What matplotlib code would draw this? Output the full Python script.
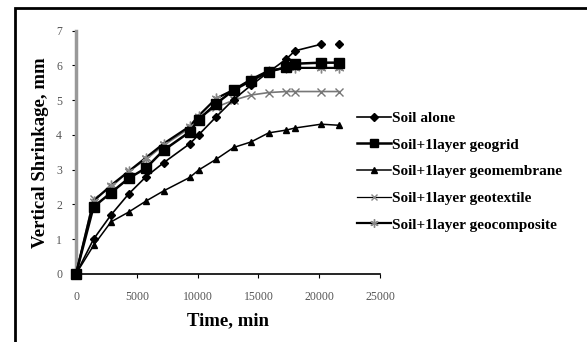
import numpy as np
import matplotlib
matplotlib.use("Agg")
import matplotlib.pyplot as plt
from matplotlib.patches import Rectangle
from matplotlib.lines import Line2D

# time, min
time = [0, 1440, 2880, 4320, 5760, 7200, 9360, 10080, 11520, 12960,
        14400, 15840, 17280, 18000, 20160, 21600]

# vertical shrinkage, mm
soil_alone = [0, 1.0, 1.7, 2.3, 2.8, 3.2, 3.75, 4.0, 4.52, 5.02,
              5.43, 5.81, 6.18, 6.42, 6.61, 6.61]
geogrid = [0, 1.93, 2.34, 2.75, 3.05, 3.56, 4.09, 4.44, 4.9, 5.29,
           5.56, 5.82, 5.95, 6.05, 6.08, 6.08]
geomembrane = [0, 0.82, 1.5, 1.78, 2.1, 2.39, 2.78, 2.99, 3.3, 3.64,
               3.8, 4.06, 4.14, 4.2, 4.31, 4.28]
geotextile = [0, 2.15, 2.5, 2.95, 3.3, 3.7, 4.2, 4.5, 4.8, 5.0,
              5.15, 5.22, 5.25, 5.25, 5.25, 5.25]
geocomposite = [0, 2.1, 2.55, 2.95, 3.35, 3.75, 4.25, 4.55, 5.05, 5.3,
                5.6, 5.85, 5.93, 5.93, 5.93, 5.93]

labels = ["Soil alone", "Soil+1layer geogrid", "Soil+1layer geomembrane",
          "Soil+1layer geotextile", "Soil+1layer geocomposite"]

plt.rcParams['font.family'] = ['Liberation Serif', 'DejaVu Serif']

fig = plt.figure(figsize=(5.87, 3.42), dpi=100)
ax = fig.add_axes([76/587, 1-274/342, 304/587, (274-30.7)/342])

# soil alone: last point is drawn without a connecting line
ax.plot(time[:-1], soil_alone[:-1], color='black', lw=1.2, marker='D', ms=4,
        clip_on=False, zorder=5)
ax.plot(time[-1:], soil_alone[-1:], color='black', lw=0, marker='D', ms=4,
        clip_on=False, zorder=5)
ax.plot(time, geogrid, color='black', lw=1.8, marker='s', ms=7,
        clip_on=False, zorder=4)
ax.plot(time, geomembrane, color='black', lw=1.1, marker='^', ms=4.5,
        clip_on=False, zorder=4)
ax.plot(time, geotextile, color='#777777', lw=1.2, marker='x', ms=6,
        mew=1, clip_on=False, zorder=3)
ax.plot(time, geocomposite, color='black', lw=1.6, marker=(6, 2, 0), ms=7,
        mec='#888888', mew=1, clip_on=False, zorder=3)

ax.set_xlim(0, 25000)
ax.set_ylim(0, 7)
ax.set_xticks(np.arange(0, 25001, 5000))
ax.set_yticks(np.arange(0, 8, 1))

ax.spines['top'].set_visible(False)
ax.spines['right'].set_visible(False)
ax.spines['left'].set_color('#999999')
ax.spines['left'].set_linewidth(2.5)
ax.spines['bottom'].set_linewidth(1.2)
ax.tick_params(axis='both', direction='out', length=3, labelsize=8.5,
               labelcolor='#555555')
ax.tick_params(axis='x', pad=9)
ax.tick_params(axis='y', pad=7)

ax.set_xlabel("Time, min", fontsize=13.5, fontweight='bold', labelpad=7)
ax.set_ylabel("Vertical Shrinkage, mm", fontsize=13.5, fontweight='bold',
              labelpad=5)

# legend
handles = [
    Line2D([], [], color='black', lw=1.2, marker='D', ms=4),
    Line2D([], [], color='black', lw=1.8, marker='s', ms=6),
    Line2D([], [], color='black', lw=1.1, marker='^', ms=4.5),
    Line2D([], [], color='black', lw=0.9, marker='x', ms=5, mec='#888888'),
    Line2D([], [], color='black', lw=1.6, marker=(6, 2, 0), ms=6,
           mec='#888888'),
]
fig.legend(handles, labels, loc='center left',
           bbox_to_anchor=(357/587, 1-171.5/342), frameon=False,
           prop={'family': 'Liberation Serif', 'weight': 'bold', 'size': 11},
           handlelength=2.2, handletextpad=0.1, labelspacing=0.85,
           borderpad=0, borderaxespad=0)

# outer frame
fig.patches.append(Rectangle((15/587, -0.2), 1.2, 1.2 - 8/342,
                             transform=fig.transFigure, fill=False,
                             edgecolor='black', lw=2))

fig.savefig("out.png", dpi=100)
